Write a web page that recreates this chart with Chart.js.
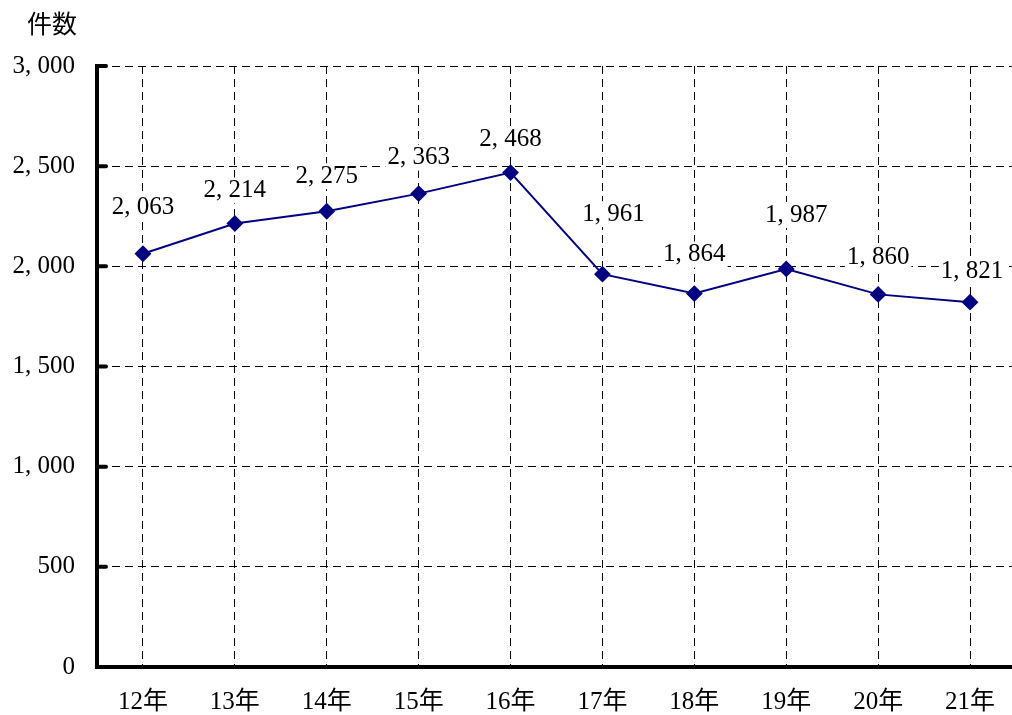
<!DOCTYPE html>
<html><head><meta charset="utf-8">
<script src="https://cdn.jsdelivr.net/npm/chart.js@4/dist/chart.umd.min.js"></script>
<style>
html,body{margin:0;padding:0;background:#fff;overflow:hidden;}
canvas{display:block;}
</style></head><body>
<canvas id="c" width="1016" height="715" style="width:1016px;height:715px"></canvas>
<script>
const categories = ['12年','13年','14年','15年','16年','17年','18年','19年','20年','21年'];
const counts = [2063, 2214, 2275, 2363, 2468, 1961, 1864, 1987, 1860, 1821];
const yTicks = [0, 500, 1000, 1500, 2000, 2500, 3000];
const yTitle = '件数';
// label offsets (styling only): [dx, dy above point]
const labelDx = [0, 0, 0, 0, 0, 11, 0, 10, 0, 2];
const labelDy = [46, 33, 35, 36, 33, 60, 39, 54, 37, 31];

const FONT = '"Liberation Serif", "Noto Sans CJK JP", serif';
const fmt = v => { const s = String(v); return s.length > 3 ? s.slice(0, -3) + ', ' + s.slice(-3) : s; };

const extras = {
  id: 'extras',
  afterDraw(chart) {
    const ctx = chart.ctx, y = chart.scales.y, a = chart.chartArea;
    ctx.save();
    ctx.strokeStyle = '#000'; ctx.lineWidth = 4; ctx.lineCap = 'round';
    yTicks.forEach(v => {
      if (v === 0) return;
      const py = y.getPixelForValue(v);
      ctx.beginPath(); ctx.moveTo(a.left, py); ctx.lineTo(a.left + 9, py); ctx.stroke();
    });
    ctx.fillStyle = '#000'; ctx.font = '25px "Noto Sans CJK JP"';
    ctx.textAlign = 'center'; ctx.textBaseline = 'middle';
    ctx.fillText(yTitle, 52, 23);
    ctx.restore();
  },
  afterDatasetsDraw(chart) {
    const ctx = chart.ctx, meta = chart.getDatasetMeta(0);
    ctx.save();
    ctx.font = '25px ' + FONT; ctx.textAlign = 'center'; ctx.textBaseline = 'middle';
    meta.data.forEach((pt, i) => {
      const t = fmt(counts[i]);
      const x = pt.x + labelDx[i], yy = pt.y - labelDy[i];
      const w = ctx.measureText(t).width + 4;
      ctx.fillStyle = '#fff'; ctx.fillRect(x - w / 2, yy - 13, w, 26);
      ctx.fillStyle = '#000'; ctx.fillText(t, x, yy);
    });
    ctx.restore();
  }
};

new Chart(document.getElementById('c'), {
  type: 'line',
  data: { labels: categories, datasets: [{
    data: counts, borderColor: '#000080', backgroundColor: '#000080', borderWidth: 2,
    pointStyle: 'rectRot', pointRadius: 7, pointHoverRadius: 7, tension: 0
  }]},
  options: {
    responsive: false, animation: false,
    layout: { autoPadding: false, padding: { top: 66, left: 0, right: 0, bottom: 0 } },
    plugins: { legend: { display: false }, tooltip: { enabled: false } },
    scales: {
      x: {
        offset: true,
        grid: { offset: false, color: '#000', lineWidth: 1, drawTicks: false },
        border: { display: true, width: 4, color: '#000', dash: [8, 5] },
        ticks: { padding: 20, color: '#000', font: { family: FONT, size: 25 } },
        afterFit: s => { s.height = 48; s.paddingLeft = 0; s.paddingRight = 0; }
      },
      y: {
        min: 0, max: 3000,
        afterBuildTicks: s => { s.ticks = yTicks.map(v => ({ value: v })); },
        grid: { color: '#000', lineWidth: 1, drawTicks: false },
        border: { display: true, width: 4, color: '#000', dash: [8, 5] },
        ticks: { padding: 22, color: '#000', font: { family: FONT, size: 25 }, callback: v => fmt(v) },
        afterFit: s => { s.width = 97; }
      }
    }
  },
  plugins: [extras]
});
</script>
</body></html>
